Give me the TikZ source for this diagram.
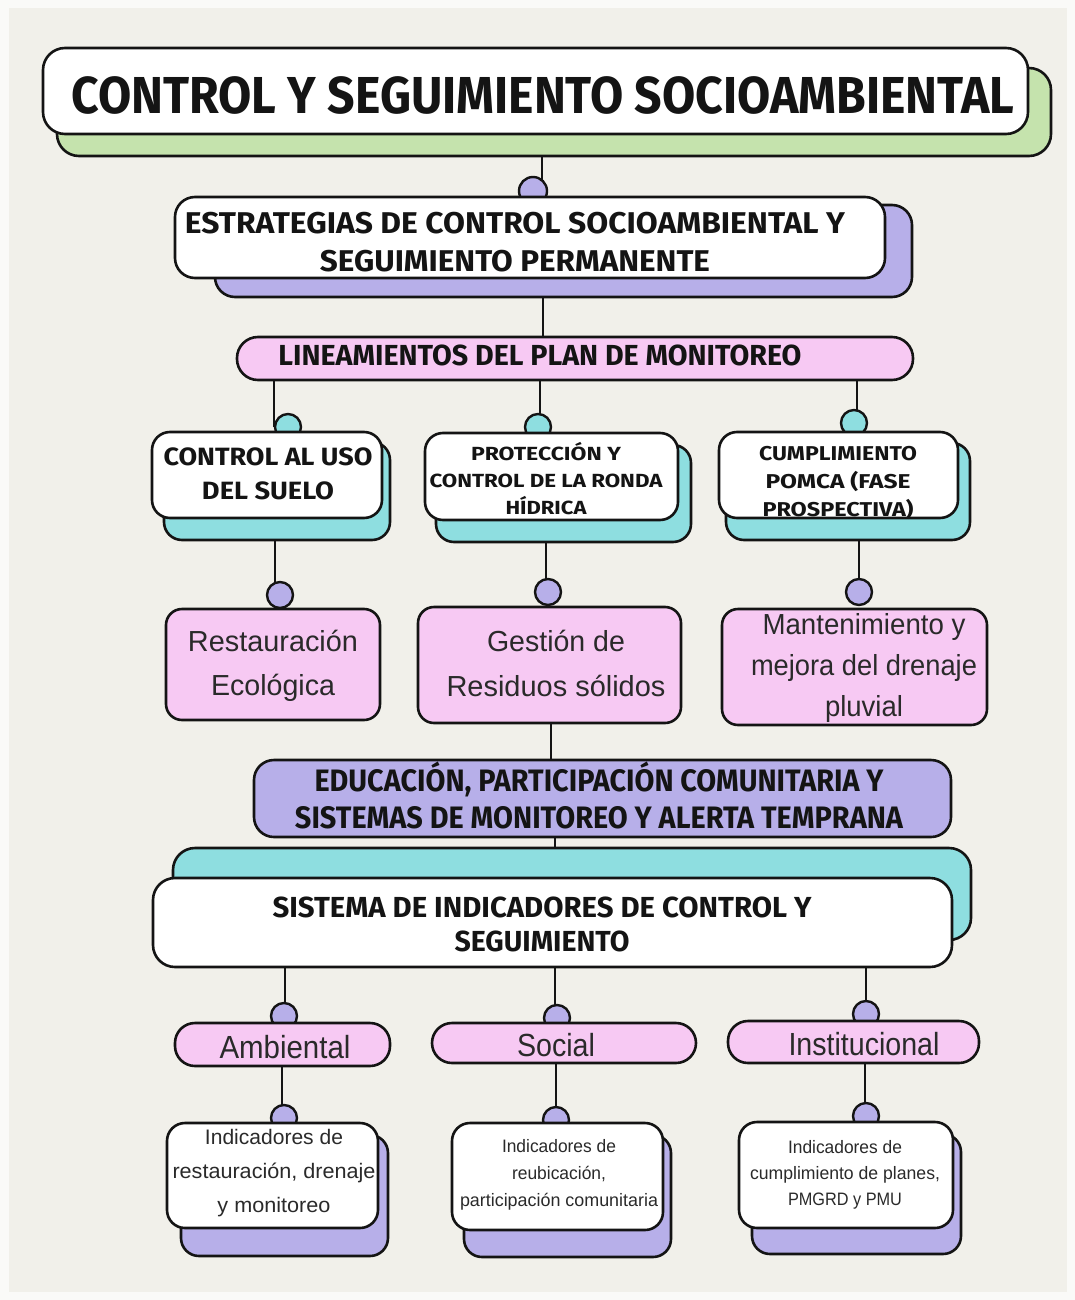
\documentclass[tikz,border=0pt]{standalone}
\usepackage{fontspec}
\usepackage{graphicx}
\usetikzlibrary{fit}
\newfontfamily\hdfont{Fira Sans}
\newfontfamily\bdfont{Liberation Sans}
% stretch a line of text to a given width, keeping its height
\newcommand\fw[2]{\resizebox{#1pt}{\height}{#2}}
\definecolor{ink}{HTML}{141414}
\definecolor{bodyink}{HTML}{2A2A2A}
\definecolor{paper}{HTML}{F1F0EA}
\definecolor{rim}{HTML}{FAFAF8}
\definecolor{leaf}{HTML}{C5E3AD}
\definecolor{lilac}{HTML}{B7AFE9}
\definecolor{aqua}{HTML}{8EDEE0}
\definecolor{blush}{HTML}{F7C9F3}
\pgfdeclarelayer{paperlayer}
\pgfdeclarelayer{wires}
\pgfdeclarelayer{dots}
\pgfsetlayers{paperlayer,wires,dots,main}
\begin{document}
\begin{tikzpicture}[x=1pt,y=-1pt,
  card/.style={draw=ink, line width=2.6pt, inner sep=0pt, rounded corners=#1},
  card/.default=18pt,
  knob/.style={circle, draw=ink, line width=2.4pt, inner sep=0pt, minimum size=26pt},
  wire/.style={draw=ink, line width=2.4pt},
  hd/.style 2 args={font=\hdfont\bfseries\fontsize{#1}{#2}\selectfont, text=ink,
    inner sep=0pt, align=center, anchor=north},
  bd/.style 2 args={font=\bdfont\fontsize{#1}{#2}\selectfont, text=bodyink,
    inner sep=0pt, align=center, anchor=north}]

\begin{pgfonlayer}{paperlayer}
  \fill[rim] (0,0) rectangle (1075,1300);
  \fill[paper] (9,8) rectangle (1067,1292);
\end{pgfonlayer}
\useasboundingbox (0,0) rectangle (1075,1300);

% ---------- title ----------
\node[card=22pt, fill=leaf, fit={(57,68)(1051,156)}] (titleSh) {};
\node[card=22pt, fill=white, fit={(43,48)(1028,134)}] (title) {};
\node[hd={52}{60}] (titleT) at (543,76) {\fw{943}{CONTROL Y SEGUIMIENTO SOCIOAMBIENTAL}};

% ---------- strategies ----------
\node[card=20pt, fill=lilac, fit={(215,205)(912,297)}] (stratSh) {};
\node[card=20pt, fill=white, fit={(175,197)(885,278)}] (strat) {};
\node[hd={30}{38}] (stratT) at (515,212)
  {\fw{660}{ESTRATEGIAS DE CONTROL SOCIOAMBIENTAL Y}\\\fw{390}{SEGUIMIENTO PERMANENTE}};

% ---------- guidelines bar ----------
\node[card=21pt, fill=blush, fit={(237,337)(913,380)}] (bar) {};
\node[hd={29}{34}] (barT) at (540,345) {\fw{523}{LINEAMIENTOS DEL PLAN DE MONITOREO}};

% ---------- three guideline cards ----------
\node[card, fill=aqua, fit={(164,442)(390,540)}] (useSh) {};
\node[card, fill=white, fit={(152,432)(382,518)}] (use) {};
\node[hd={25}{34}] (useT) at (268,448) {\fw{209}{CONTROL AL USO}\\\fw{132}{DEL SUELO}};

\node[card, fill=aqua, fit={(436,445)(691,542)}] (rondaSh) {};
\node[card, fill=white, fit={(425,433)(678,520)}] (ronda) {};
\node[hd={19}{27}] (rondaT) at (546,442)
  {\fw{150}{PROTECCIÓN Y}\\\fw{233}{CONTROL DE LA RONDA}\\\fw{81}{HÍDRICA}};

\node[card, fill=aqua, fit={(726,443)(970,540)}] (pomcaSh) {};
\node[card, fill=white, fit={(719,432)(958,518)}] (pomca) {};
\node[hd={20}{28}] (pomcaT) at (838,446)
  {\fw{158}{CUMPLIMIENTO}\\\fw{145}{POMCA (FASE}\\\fw{151}{PROSPECTIVA)}};

% ---------- actions ----------
\node[card=16pt, fill=blush, fit={(166,609)(380,720)}] (resto) {};
\node[bd={29}{44}] (restoT) at (273,630) {\fw{170}{Restauración}\\\fw{124}{Ecológica}};

\node[card=16pt, fill=blush, fit={(418,607)(681,723)}] (resid) {};
\node[bd={29}{45}] (residT) at (556,630) {\fw{138}{Gestión de}\\\fw{219}{Residuos sólidos}};

\node[card=16pt, fill=blush, fit={(722,609)(987,725)}] (drena) {};
\node[bd={29}{41}] (drenaT) at (864,613)
  {\fw{203}{Mantenimiento y}\\\fw{226}{mejora del drenaje}\\\fw{78}{pluvial}};

% ---------- education ----------
\node[card=20pt, fill=lilac, fit={(254,760)(951,837)}] (edu) {};
\node[hd={31}{37}] (eduT) at (599,762)
  {\fw{569}{EDUCACIÓN, PARTICIPACIÓN COMUNITARIA Y}\\\fw{608}{SISTEMAS DE MONITOREO Y ALERTA TEMPRANA}};

% ---------- indicator system ----------
\node[card=22pt, fill=aqua, fit={(173,848)(971,940)}] (sysSh) {};
\node[card=22pt, fill=white, fit={(153,878)(952,967)}] (sys) {};
\node[hd={29}{34}] (sysT) at (542,897)
  {\fw{539}{SISTEMA DE INDICADORES DE CONTROL Y}\\\fw{175}{SEGUIMIENTO}};

% ---------- indicator families ----------
\node[card=20pt, fill=blush, fit={(175,1023)(390,1066)}] (amb) {};
\node[bd={32}{36}] (ambT) at (285,1035) {\fw{131}{Ambiental}};
\node[card=20pt, fill=blush, fit={(432,1023)(696,1063)}] (soc) {};
\node[bd={32}{36}] (socT) at (556,1033) {\fw{78}{Social}};
\node[card=20pt, fill=blush, fit={(728,1021)(979,1063)}] (inst) {};
\node[bd={32}{36}] (instT) at (864,1032) {\fw{151}{Institucional}};

% ---------- indicator cards ----------
\node[card, fill=lilac, fit={(181,1135)(388,1256)}] (indASh) {};
\node[card, fill=white, fit={(167,1123)(378,1228)}] (indA) {};
\node[bd={21}{34}] (indAT) at (274,1129)
  {\fw{138}{Indicadores de}\\\fw{203}{restauración, drenaje}\\\fw{113}{y monitoreo}};

\node[card, fill=lilac, fit={(464,1135)(671,1257)}] (indBSh) {};
\node[card, fill=white, fit={(452,1123)(663,1230)}] (indB) {};
\node[bd={18}{27}] (indBT) at (559,1139)
  {\fw{114}{Indicadores de}\\\fw{94}{reubicación,}\\\fw{198}{participación comunitaria}};

\node[card, fill=lilac, fit={(752,1134)(961,1254)}] (indCSh) {};
\node[card, fill=white, fit={(739,1122)(953,1228)}] (indC) {};
\node[bd={18}{26}] (indCT) at (845,1140)
  {\fw{114}{Indicadores de}\\\fw{190}{cumplimiento de planes,}\\\fw{114}{PMGRD y PMU}};

% ---------- joints (partly hidden behind the cards) ----------
\begin{pgfonlayer}{dots}
  \node[knob, fill=lilac, minimum size=28pt] (j0) at (533,191) {};
  \node[knob, fill=aqua] (jA) at (288,427) {};
  \node[knob, fill=aqua] (jB) at (538,427) {};
  \node[knob, fill=aqua] (jC) at (854,423) {};
  \node[knob, fill=lilac] (kA) at (280,595) {};
  \node[knob, fill=lilac] (kB) at (548,592) {};
  \node[knob, fill=lilac] (kC) at (859,592) {};
  \node[knob, fill=lilac] (mA) at (284,1016) {};
  \node[knob, fill=lilac] (mB) at (557,1018) {};
  \node[knob, fill=lilac] (mC) at (866,1014) {};
  \node[knob, fill=lilac] (nA) at (284,1118) {};
  \node[knob, fill=lilac] (nB) at (556,1120) {};
  \node[knob, fill=lilac] (nC) at (866,1116) {};
\end{pgfonlayer}

% ---------- connectors ----------
\coordinate (x0) at (542,0);
\coordinate (x1) at (543,0);
\coordinate (xA1) at (274,0);
\coordinate (xB1) at (540,0);
\coordinate (xC1) at (857,0);
\coordinate (xA2) at (275,0);
\coordinate (xB2) at (546,0);
\coordinate (xC2) at (859,0);
\coordinate (x3) at (551,0);
\coordinate (x4) at (555,0);
\coordinate (xA5) at (285,0);
\coordinate (xB5) at (555,0);
\coordinate (xC5) at (866,0);
\coordinate (xA6) at (282,0);
\coordinate (xB6) at (556,0);
\coordinate (xC6) at (865,0);
\begin{pgfonlayer}{wires}
  \draw[wire] (title.south -| x0) -- (j0.center -| x0);
  \draw[wire] (strat.south -| x1) -- (bar.north -| x1);
  \draw[wire] (bar.south -| xA1) -- (jA.center -| xA1);
  \draw[wire] (bar.south -| xB1) -- (jB.center -| xB1);
  \draw[wire] (bar.south -| xC1) -- (jC.center -| xC1);
  \draw[wire] (use.south -| xA2) -- (kA.center -| xA2);
  \draw[wire] (ronda.south -| xB2) -- (kB.center -| xB2);
  \draw[wire] (pomca.south -| xC2) -- (kC.center -| xC2);
  \draw[wire] (resid.south -| x3) -- (edu.north -| x3);
  \draw[wire] (edu.south -| x4) -- (sysSh.north -| x4);
  \draw[wire] (sys.south -| xA5) -- (mA.center -| xA5);
  \draw[wire] (sys.south -| xB5) -- (mB.center -| xB5);
  \draw[wire] (sys.south -| xC5) -- (mC.center -| xC5);
  \draw[wire] (amb.south -| xA6) -- (nA.center -| xA6);
  \draw[wire] (soc.south -| xB6) -- (nB.center -| xB6);
  \draw[wire] (inst.south -| xC6) -- (nC.center -| xC6);
\end{pgfonlayer}
\end{tikzpicture}
\end{document}
